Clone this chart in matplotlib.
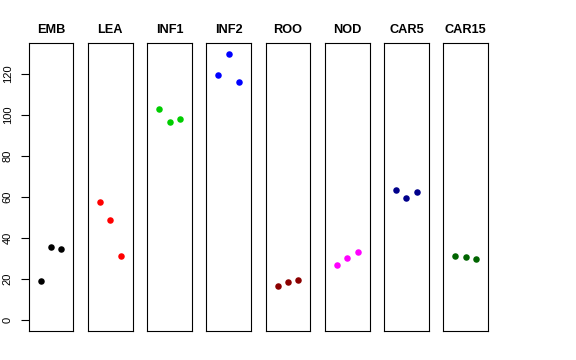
import numpy as np
import matplotlib
matplotlib.use("Agg")
import matplotlib.pyplot as plt

plt.rcParams['font.family'] = ['Liberation Sans', 'DejaVu Sans']

# one panel per tissue, three replicates each
tissues = ["EMB", "LEA", "INF1", "INF2", "ROO", "NOD", "CAR5", "CAR15"]
colors = ["black", "red", "#00CD00", "blue", "#8B0000", "magenta", "#00008B", "#006400"]
reps = [1, 2, 3]
emb = [19.1, 35.5, 34.9]
lea = [57.5, 49.0, 31.1]
inf1 = [103.1, 96.6, 98.2]
inf2 = [119.3, 129.7, 115.9]
roo = [16.7, 18.6, 19.8]
nod = [26.8, 30.3, 33.1]
car5 = [63.7, 59.8, 62.6]
car15 = [31.5, 30.8, 30.0]
values = [emb, lea, inf1, inf2, roo, nod, car5, car15]
yticks = [0, 20, 40, 60, 80, 100, 120]

fig, axes = plt.subplots(1, len(tissues), figsize=(5.76, 3.6), dpi=100, sharey=True)
fig.subplots_adjust(left=28.7/576, right=488/576, top=1-43.3/360,
                    bottom=1-331/360, wspace=0.324)

ymax = max(max(v) for v in values)
pad = 0.04 * ymax

for i, ax in enumerate(axes):
    ax.scatter(reps, values[i], color=colors[i], s=22, linewidths=0, zorder=3)
    ax.set_xlim(-0.16, 4.16)
    ax.set_ylim(-pad, ymax + pad)
    ax.set_title(tissues[i], fontsize=9.2, fontweight='bold', pad=7.2)
    ax.set_xticks([])
    for s in ax.spines.values():
        s.set_linewidth(0.8)
        s.set_color('black')
    if i == 0:
        ax.set_yticks(yticks)
        ax.tick_params(axis='y', length=5.8, width=0.8, pad=5.6, labelsize=8)
        for lab in ax.get_yticklabels():
            lab.set_rotation(90)
            lab.set_va('center')
    else:
        ax.tick_params(axis='y', left=False, labelleft=False)

fig.savefig("out.png", dpi=100)
